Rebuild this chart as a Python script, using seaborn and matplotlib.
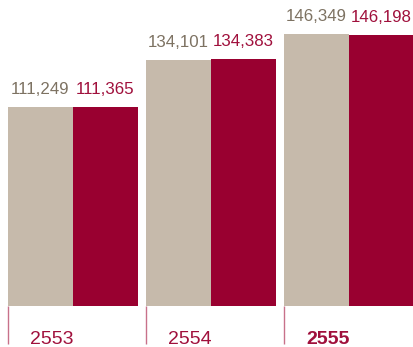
import matplotlib
matplotlib.use("Agg")
import matplotlib.pyplot as plt
import seaborn as sns
import pandas as pd

# Data
years = ["2553", "2554", "2555"]
series_a = [111249, 134101, 146349]
series_b = [111365, 134383, 146198]
series_names = ["A", "B"]

beige = "#c6baab"
crimson = "#990030"
beige_text = "#7d7262"
crimson_text = "#a0103c"
tick_color = "#c8718a"

df = pd.DataFrame({
    "year": years * 2,
    "series": [series_names[0]] * 3 + [series_names[1]] * 3,
    "value": series_a + series_b,
})

sns.set_theme(style="white")
plt.rcParams["font.family"] = ["Liberation Sans", "DejaVu Sans"]

fig = plt.figure(figsize=(4.14, 3.47), dpi=100)
ax = fig.add_axes([0, 41 / 347, 1, 306 / 347])

sns.barplot(
    data=df, x="year", y="value", hue="series", order=years,
    palette=[beige, crimson], width=0.94, gap=0, dodge=True,
    saturation=1, legend=False, ax=ax, errorbar=None, linewidth=0,
)

ax.set_xlim(-0.525, 2.47)
ax.set_ylim(15420, 162960)
for s in ax.spines.values():
    s.set_visible(False)
ax.set_xlabel("")
ax.set_ylabel("")
ax.set_yticks([])

# value labels above each bar
label_colors = [beige_text, crimson_text]
for container, col in zip(ax.containers, label_colors):
    for bar in container:
        h = bar.get_height()
        ax.annotate(f"{int(round(h)):,}", (bar.get_x() + bar.get_width() / 2, h),
                    xytext=(0, 9.4), textcoords="offset points",
                    ha="center", va="baseline", fontsize=12.2, color=col,
                    annotation_clip=False)

# thin marker lines at the left edge of each group, with the year beside it
left_edges = [c.get_x() for c in ax.containers[0]]
ax.set_xticks(left_edges)
ax.set_xticklabels([""] * len(left_edges))
ax.tick_params(axis="x", length=27.4, width=1.0, color=tick_color,
               direction="out", bottom=True)

for i, (x, yr) in enumerate(zip(left_edges, years)):
    ax.annotate(yr, (x, 0), xycoords=("data", "axes fraction"),
                xytext=(16, -27.2), textcoords="offset points",
                ha="left", va="baseline", fontsize=14, color=crimson_text,
                fontweight="bold" if i == len(years) - 1 else "normal",
                annotation_clip=False)

fig.savefig("out.png", dpi=100)
